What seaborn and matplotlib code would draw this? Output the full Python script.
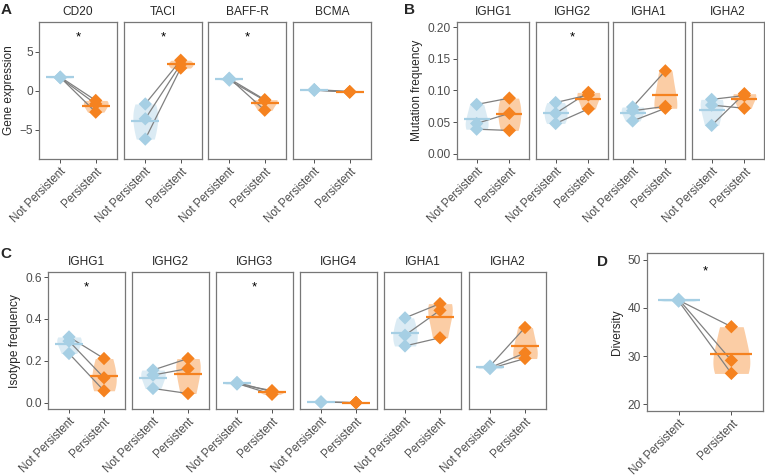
import numpy as np
import pandas as pd
import matplotlib
matplotlib.use('Agg')
import matplotlib.pyplot as plt
import seaborn as sns

groups = ['Not Persistent', 'Persistent']
palette = {'Not Persistent': '#A6CFE4', 'Persistent': '#F5821F'}

# A - gene expression
genes = ['CD20', 'TACI', 'BAFF-R', 'BCMA']
genes_not = [[1.75, 1.65, 1.70], [-1.7, -3.6, -6.2], [1.55, 1.35, 1.60], [0.15, 0.10, 0.05]]
genes_pers = [[-1.25, -1.70, -2.75], [3.9, 3.4, 2.9], [-1.15, -1.25, -2.50], [-0.10, -0.20, -0.15]]
genes_sig = [True, True, True, False]

# B - mutation frequency
mut_iso = ['IGHG1', 'IGHG2', 'IGHA1', 'IGHA2']
mut_not = [[0.078, 0.048, 0.039], [0.081, 0.064, 0.048], [0.074, 0.068, 0.052], [0.086, 0.077, 0.045]]
mut_pers = [[0.088, 0.064, 0.037], [0.093, 0.097, 0.071], [0.131, 0.075, 0.072], [0.092, 0.072, 0.095]]
mut_sig = [False, True, False, False]

# C - isotype frequency
iso = ['IGHG1', 'IGHG2', 'IGHG3', 'IGHG4', 'IGHA1', 'IGHA2']
iso_not = [[0.314, 0.294, 0.235], [0.156, 0.132, 0.068], [0.097, 0.092, 0.089],
           [0.004, 0.002, 0.003], [0.405, 0.322, 0.271], [0.175, 0.167, 0.163]]
iso_pers = [[0.211, 0.119, 0.057], [0.211, 0.163, 0.044], [0.052, 0.040, 0.058],
            [0.000, 0.001, 0.000], [0.473, 0.441, 0.310], [0.359, 0.238, 0.211]]
iso_sig = [True, False, True, False, False, False]

# D - diversity
div_not = [41.6, 41.8, 41.4]
div_pers = [36.1, 29.1, 26.4]

sns.set_theme(style='white')
plt.rcParams['font.family'] = ['Liberation Sans', 'DejaVu Sans']
FS = 8.6

W, H = 765, 476
fig = plt.figure(figsize=(W / 100, H / 100), dpi=100)


def add_ax(left, top, width, height):
    return fig.add_axes([left / W, 1 - (top + height) / H, width / W, height / H])


def draw(ax, nv, pv, sig, title, ylim, yticks, yfmt, ylabel=None):
    df = pd.DataFrame({'group': np.repeat(groups, len(nv)),
                       'value': list(nv) + list(pv),
                       'subject': list(range(len(nv))) * 2})
    df['code'] = pd.Categorical(df['group'], categories=groups).codes
    sns.violinplot(data=df, x='group', y='value', hue='group', order=groups,
                   palette=palette, cut=0, inner=None, linewidth=0, width=0.7,
                   saturation=1, alpha=0.4, legend=False, bw_method='silverman', ax=ax)
    sns.lineplot(data=df, x='code', y='value', units='subject', estimator=None,
                 color='#808080', lw=0.9, ax=ax, zorder=3)
    sns.scatterplot(data=df, x='code', y='value', hue='group', palette=palette,
                    marker='D', s=46, linewidth=0, legend=False, ax=ax, zorder=4)
    means = df.groupby('code')['value'].mean()
    for c, m in means.items():
        ax.hlines(m, c - 0.4, c + 0.4, color=palette[groups[c]], lw=1.6, zorder=5)
    if sig:
        ax.text(0.5, 0.885, '*', transform=ax.transAxes, ha='center', va='center',
                fontsize=FS + 1, color='black')
    ax.set_xlim(-0.6, 1.6)
    ax.set_ylim(*ylim)
    ax.set_xticks([0, 1])
    ax.set_xticklabels(groups, rotation=45, ha='right', rotation_mode='anchor', fontsize=8.3)
    ax.set_xlabel('')
    ax.set_title(title, fontsize=FS, pad=5)
    ax.tick_params(length=3, width=0.6, color='#333333', labelcolor='#4D4D4D',
                   pad=1.5, bottom=True, left=ylabel is not None)
    ax.tick_params(axis='y', labelsize=FS)
    ax.set_yticks(yticks)
    if ylabel is not None:
        ax.set_yticklabels([yfmt.format(v) for v in yticks])
        ax.set_ylabel(ylabel, fontsize=FS, labelpad=3)
    else:
        ax.set_yticklabels([])
        ax.set_ylabel('')
    for sp in ax.spines.values():
        sp.set_color('#777777')
        sp.set_linewidth(0.9)


# panel A
for i, left in enumerate([39, 124, 208, 293]):
    ax = add_ax(left, 22, 78, 137)
    draw(ax, genes_not[i], genes_pers[i], genes_sig[i], genes[i], (-8.75, 8.8),
         [-5, 0, 5], '{:g}', 'Gene expression' if i == 0 else None)
    if i == 0:
        ax.set_yticklabels(['\u22125', '0', '5'])

# panel B
for i, left in enumerate([457, 536, 613, 692]):
    ax = add_ax(left, 22, 72, 137)
    draw(ax, mut_not[i], mut_pers[i], mut_sig[i], mut_iso[i], (-0.008, 0.208),
         [0, 0.05, 0.10, 0.15, 0.20], '{:.2f}', 'Mutation frequency' if i == 0 else None)

# panel C
for i, left in enumerate([48, 132, 216, 300, 384, 469]):
    ax = add_ax(left, 272, 77, 137)
    draw(ax, iso_not[i], iso_pers[i], iso_sig[i], iso[i], (-0.03, 0.624),
         [0, 0.2, 0.4, 0.6], '{:.1f}', 'Isotype frequency' if i == 0 else None)

# panel D
ax = add_ax(647, 253, 116, 158)
draw(ax, div_not, div_pers, True, '', (18.6, 51.4), [20, 30, 40, 50], '{:g}', 'Diversity')

for letter, x, y in [('A', 1, 3), ('B', 404, 3), ('C', 0, 247), ('D', 597, 255)]:
    fig.text(x / W, 1 - y / H, letter, fontsize=11, fontweight='bold', va='top', ha='left')

fig.savefig('out.png', dpi=100)
